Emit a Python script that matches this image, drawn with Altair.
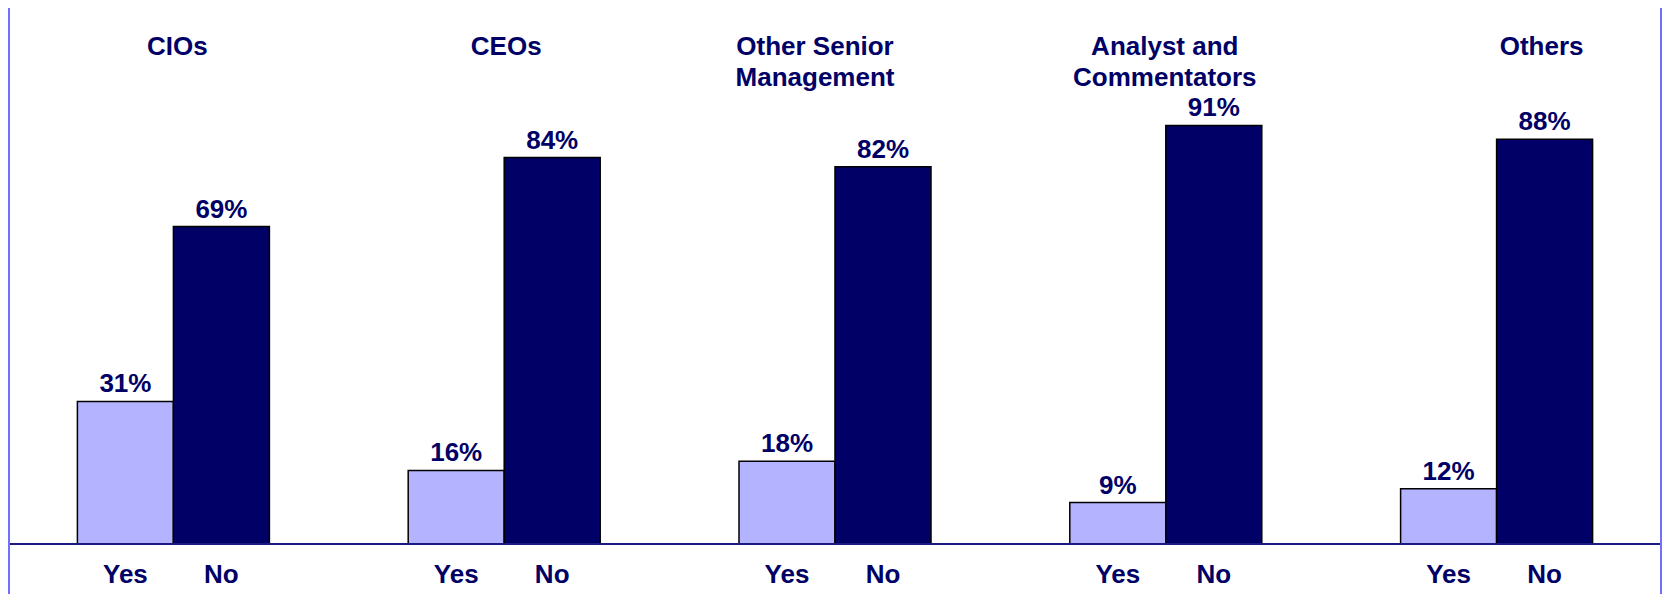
import altair as alt
import pandas as pd

# ---- data ----
categories = ["CIOs", "CEOs", "Other Senior Management", "Analyst and Commentators", "Others"]
headers = ["CIOs", "CEOs", "Other Senior\nManagement", "Analyst and\nCommentators", "Others"]
answers = ["Yes", "No"]
yes_values = [31, 16, 18, 9, 12]
no_values = [69, 84, 82, 91, 88]

rows = []
for c, h, y, n in zip(categories, headers, yes_values, no_values):
    rows.append({"group": c, "header": h, "answer": "Yes", "value": y})
    rows.append({"group": c, "header": h, "answer": "No", "value": n})
df = pd.DataFrame(rows)
df["label"] = df["value"].astype(str) + "%"

W, H = 1654, 460
BW = 96
NAVY = "#000066"
LAV = "#B3B3FF"
FONT = "Liberation Sans"

xg = alt.X("group:N", sort=categories, axis=None,
           scale=alt.Scale(paddingInner=0, paddingOuter=0))
yv = alt.Y("value:Q", axis=None, scale=alt.Scale(domain=[0, 100], nice=False, zero=True))

base = alt.Chart(df)
layers = []
for ans, col, off in [("Yes", LAV, -BW / 2), ("No", NAVY, BW / 2)]:
    sub = base.transform_filter(alt.datum.answer == ans)
    layers.append(sub.mark_bar(size=BW, xOffset=off, color=col,
                               stroke="#000000", strokeWidth=1.5).encode(x=xg, y=yv))
    layers.append(sub.mark_text(font=FONT, fontSize=26, fontWeight="bold", color=NAVY,
                                baseline="alphabetic", dy=-9, dx=off)
                  .encode(x=xg, y=yv, text="label:N"))
    layers.append(sub.mark_text(font=FONT, fontSize=26, fontWeight="bold", color=NAVY,
                                baseline="middle", dx=off)
                  .encode(x=xg, y=alt.value(H + 31), text="answer:N"))

nudges = {"CIOs": 4, "CEOs": 2, "Other Senior Management": -20,
          "Analyst and Commentators": -1, "Others": 45}
for c in categories:
    layers.append(
        base.transform_filter((alt.datum.group == c) & (alt.datum.answer == "Yes"))
        .mark_text(font=FONT, fontSize=26, fontWeight="bold", color=NAVY,
                   baseline="middle", lineBreak="\n", lineHeight=31, dx=nudges[c])
        .encode(x=xg, y=alt.value(-37), text="header:N")
    )

axis_line = base.mark_rule(color="#1a1a80", strokeWidth=2).encode(
    y=alt.value(H), x=alt.value(0), x2=alt.value(W))
left_border = base.mark_rule(color="#7070FF", strokeWidth=2).encode(
    x=alt.value(1), y=alt.value(-76), y2=alt.value(H + 50))
right_border = base.mark_rule(color="#7070FF", strokeWidth=2).encode(
    x=alt.value(W - 1), y=alt.value(-76), y2=alt.value(H + 50))

chart = alt.layer(*layers, axis_line, left_border, right_border).properties(
    width=W, height=H,
    autosize=alt.AutoSizeParams(type="none"),
    padding={"left": 0, "top": 76, "right": 0, "bottom": 50},
    background="white",
).configure_view(strokeWidth=0)

chart.save("out.html", embed_options={"renderer": "svg", "actions": False})
